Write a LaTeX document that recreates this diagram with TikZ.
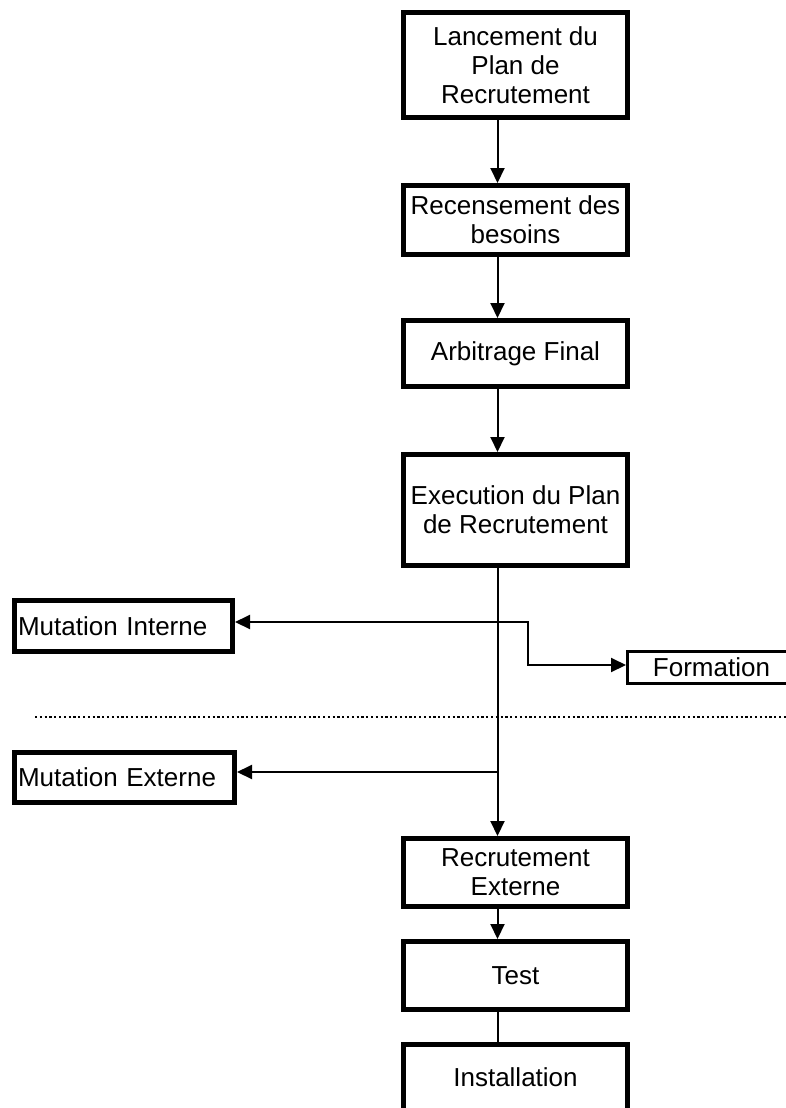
\documentclass[tikz,border=0pt]{standalone}
\usepackage{fontspec}
\setmainfont{Liberation Sans}
\usetikzlibrary{arrows.meta}
\begin{document}
\begin{tikzpicture}[x=1pt,y=-1pt,
  txt/.style={font=\fontsize{26}{29}\selectfont},
  box/.style={txt, draw, line width=5pt, inner sep=0pt, minimum width=224pt, align=center},
  sidebox/.style={txt, draw, line width=5pt, inner ysep=0pt, inner xsep=3.5pt, align=left},
  thinbox/.style={txt, draw, line width=3pt, inner sep=0pt},
  conn/.style={line width=2pt},
  tip/.tip={Triangle[width=14pt,length=15pt]},
  arr/.style={conn, -tip},
  dotline/.style={line width=2.2pt, dash pattern=on 2.2pt off 2.6pt}
]
\useasboundingbox (0,0) rectangle (786,1108);
\clip (0,0) rectangle (786,1108);

\node[box, minimum height=105pt] (b1) at (515.5,65) {Lancement du\\Plan de\\Recrutement};
\node[box, minimum height=69pt] (b2) at (515.5,220) {Recensement des\\besoins};
\node[box, minimum height=66pt] (b3) at (515.5,353.5) {Arbitrage Final};
\node[box, minimum height=111pt] (b4) at (515.5,510) {Execution du Plan\\de Recrutement};
\node[box, minimum height=68pt] (b5) at (515.5,872.5) {Recrutement\\Externe};
\node[box, minimum height=68pt] (b6) at (515.5,975.5) {Test};
\node[box, minimum height=66pt] (b7) at (515.5,1077.5) {Installation};

\node[sidebox, text width=211pt, minimum height=51pt] (mi) at (123.5,626) {Mutation Interne};
\node[sidebox, text width=213pt, minimum height=50pt] (me) at (124.5,777.5) {Mutation Externe};
\node[thinbox, minimum width=168pt, minimum height=32pt] (fo) at (711.5,667.5) {Formation};

\coordinate (cx) at (497.5,0);
\draw[arr] (b1.south -| cx) -- (b2.north -| cx);
\draw[arr] (b2.south -| cx) -- (b3.north -| cx);
\draw[arr] (b3.south -| cx) -- (b4.north -| cx);
\draw[arr] (b4.south -| cx) -- (b5.north -| cx);
\draw[arr] (b5.south -| cx) -- (b6.north -| cx);
\draw[conn] (b6.south -| cx) -- (b7.north -| cx);

\coordinate (jf) at (528,622);
\coordinate (jfd) at (528,665);
\draw[conn, tip-tip] (jf -| mi.east) -- (jf) -- (jfd) -- (jfd -| fo.west);

\coordinate (je) at (497.5,772);
\draw[arr] (je) -- (je -| me.east);

\coordinate (d0) at (35,717);
\coordinate (d1) at (790,717);
\draw[dotline] (d0) -- (d1);
\end{tikzpicture}
\end{document}
